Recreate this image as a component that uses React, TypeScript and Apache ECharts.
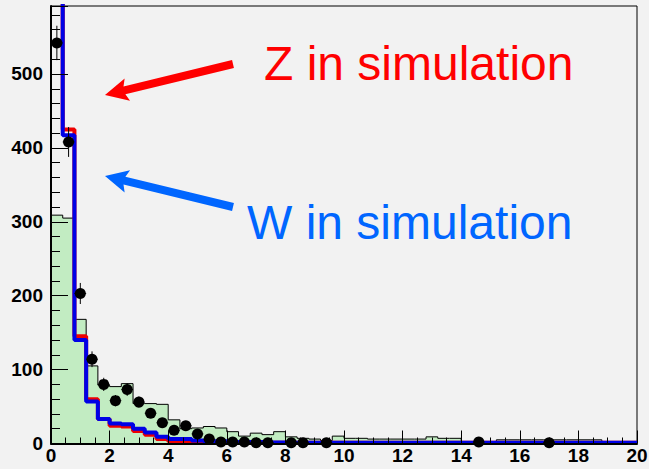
import React, { useEffect, useRef } from 'react';
import * as echarts from 'echarts';

// ---- data ----
const binWidth = 0.4;
const xMin = 0;
const xMax = 20;
const yMax = 592;
const xTickStep = 2;
const yTickStep = 100;

// green filled histogram (total simulation)
const totalMC = [
  309, 305, 168, 105, 79, 77, 81, 54, 54, 53,
  32, 20, 21, 23, 21, 16, 10, 14, 12, 16,
  9, 7, 6, 4, 10, 7, 7, 6, 6, 6,
  6, 6, 9, 7, 7, 2.5, 2.5, 2.5, 5, 5,
  5, 5, 5, 5, 5, 5, 5, 2.5, 2.5, 2.5,
];

// Z in simulation (red)
const zSim = [
  650, 425, 145, 60, 33, 24, 23, 17, 12, 6,
  3, 3, 2, 2, 1.5, 1.5, 1, 1, 1, 1,
  1, 1, 1, 1, 1, 1, 1, 1, 1, 1,
  1, 1, 1, 1, 1, 1, 1, 1, 1, 1,
  1, 1, 1, 1, 1, 1, 1, 1, 1, 1,
];

// W in simulation (blue)
const wSim = [
  650, 417, 140, 57, 33, 27, 26, 20, 15, 9,
  6, 6, 4, 3, 3, 2, 2, 2, 1.5, 1.5,
  1, 1, 1, 1, 1, 1, 1, 1, 1, 1,
  1, 1, 1, 1, 1, 1, 1, 1, 1, 1,
  1, 1, 1, 1, 1, 1, 1, 1, 1, 1,
];

// measured data points (counts per bin, null = empty)
const dataCounts: (number | null)[] = [
  542, 408, 203, 114, 80, 58, 73, 56, 41, 28,
  18, 24, 13, 6, 2, 2, 2, 1, 1, null,
  1, 1, null, 1, null, null, null, null, null, null,
  null, null, null, null, null, null, 2, null, null, null,
  null, null, 1, null, null, null, null, null, null, null,
];

const annotations = [
  { text: 'Z in simulation', color: '#ff0000' },
  { text: 'W in simulation', color: '#0066ff' },
];

function histLine(values: number[]): number[][] {
  const pts = values.map((v, i) => [xMin + i * binWidth, v]);
  pts.push([xMin + values.length * binWidth, values[values.length - 1]]);
  return pts;
}

function arrowPoints(tip: number[], tail: number[], headLen: number, headHalf: number, shaftHalf: number, notch: number) {
  const dx = tail[0] - tip[0];
  const dy = tail[1] - tip[1];
  const L = Math.hypot(dx, dy);
  const ux = dx / L, uy = dy / L;
  const px = -uy, py = ux;
  const bx = tip[0] + ux * headLen, by = tip[1] + uy * headLen;
  const sx = tip[0] + ux * (headLen - notch), sy = tip[1] + uy * (headLen - notch);
  return [
    tip,
    [bx + px * headHalf, by + py * headHalf],
    [sx + px * shaftHalf, sy + py * shaftHalf],
    [tail[0] + px * shaftHalf, tail[1] + py * shaftHalf],
    [tail[0] - px * shaftHalf, tail[1] - py * shaftHalf],
    [sx - px * shaftHalf, sy - py * shaftHalf],
    [bx - px * headHalf, by - py * headHalf],
  ];
}

export default function App() {
  const ref = useRef<HTMLDivElement>(null);
  useEffect(() => {
    if (!ref.current) return;
    const chart = echarts.init(ref.current, undefined, { renderer: 'svg' });
    const points = dataCounts
      .map((v, i) => (v == null ? null : [xMin + (i + 0.5) * binWidth, v]))
      .filter((p) => p != null) as number[][];
    const labelFont = { fontSize: 19, fontWeight: 'bold' as const, fontFamily: '"Liberation Sans", Arial, sans-serif', color: '#000' };

    chart.setOption({
      animation: false,
      backgroundColor: '#f2f2f2',
      grid: {
        left: 51, top: 6, right: 12, bottom: 25.5,
        show: true, borderColor: '#000', borderWidth: 1, backgroundColor: 'transparent',
        outerBoundsMode: 'none',
      },
      xAxis: {
        type: 'value', min: xMin, max: xMax, interval: xTickStep, z: 5,
        axisLine: { show: true, onZero: false, lineStyle: { color: '#000', width: 2 } },
        axisTick: { show: true, inside: true, length: 13, lineStyle: { color: '#000', width: 1 } },
        minorTick: { show: true, splitNumber: 4, length: 6, lineStyle: { color: '#000', width: 1 } },
        axisLabel: { ...labelFont, margin: 2 },
        splitLine: { show: false },
      },
      yAxis: {
        type: 'value', min: 0, max: yMax, interval: yTickStep, z: 5,
        axisLine: { show: true, onZero: false, lineStyle: { color: '#000', width: 2 } },
        axisTick: { show: true, inside: true, length: 17, lineStyle: { color: '#000', width: 1 } },
        minorTick: { show: true, splitNumber: 5, length: 9, lineStyle: { color: '#000', width: 1 } },
        axisLabel: { ...labelFont, margin: 8, formatter: (v: number) => (v % yTickStep === 0 ? String(v) : '') },
        splitLine: { show: false },
      },
      series: [
        {
          type: 'line', name: 'total', step: 'end', data: histLine(totalMC), showSymbol: false, z: 1,
          lineStyle: { color: '#000', width: 1 },
          areaStyle: { color: '#c2ecc2', opacity: 1 },
        },
        {
          type: 'line', name: 'Z', step: 'end', data: histLine(zSim), showSymbol: false, z: 2,
          lineStyle: { color: '#ee0000', width: 4 },
        },
        {
          type: 'line', name: 'W', step: 'end', data: histLine(wSim), showSymbol: false, z: 3,
          lineStyle: { color: '#0000e6', width: 4 },
        },
        {
          type: 'custom', name: 'errors', z: 4, data: points,
          renderItem: (params: any, api: any) => {
            const x = api.value(0);
            const y = api.value(1);
            const e = Math.sqrt(y);
            const top = api.coord([x, y + e]);
            const bot = api.coord([x, y - e]);
            const l = api.coord([x - binWidth / 2, y]);
            const r = api.coord([x + binWidth / 2, y]);
            return {
              type: 'group',
              children: [
                { type: 'line', shape: { x1: top[0], y1: top[1], x2: bot[0], y2: bot[1] }, style: { stroke: '#000', lineWidth: 1 } },
                { type: 'line', shape: { x1: l[0], y1: l[1], x2: r[0], y2: r[1] }, style: { stroke: '#000', lineWidth: 1 } },
              ],
            };
          },
        },
        {
          type: 'scatter', name: 'data', z: 4, data: points, symbol: 'circle', symbolSize: 11,
          itemStyle: { color: '#000', opacity: 1 },
        },
      ],
      graphic: [
        {
          type: 'polygon', z: 10,
          shape: { points: arrowPoints([105, 95], [233, 64], 23, 11.5, 4, 3) },
          style: { fill: annotations[0].color },
        },
        {
          type: 'polygon', z: 10,
          shape: { points: arrowPoints([105, 176], [233, 207], 23, 11.5, 4, 3) },
          style: { fill: annotations[1].color },
        },
        {
          type: 'text', z: 10, x: 264, y: 63.5,
          style: { text: annotations[0].text, fill: annotations[0].color, font: '48px "Liberation Sans", Arial, sans-serif', textAlign: 'left', textVerticalAlign: 'middle' },
        },
        {
          type: 'text', z: 10, x: 247, y: 222,
          style: { text: annotations[1].text, fill: annotations[1].color, font: '48px "Liberation Sans", Arial, sans-serif', textAlign: 'left', textVerticalAlign: 'middle' },
        },
      ],
    });
    return () => chart.dispose();
  }, []);
  return <div ref={ref} style={{ position: 'fixed', left: 0, top: 0, width: 649, height: 469, background: '#f2f2f2' }} />;
}
